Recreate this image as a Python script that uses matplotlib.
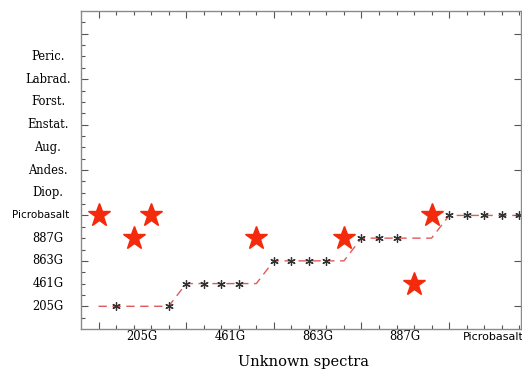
import numpy as np
import matplotlib.pyplot as plt
from matplotlib import transforms

# class names on the y axis, bottom to top
y_labels = ["205G", "461G", "863G", "887G", "Picrobasalt", "Diop.", "Andes.",
            "Aug.", "Enstat.", "Forst.", "Labrad.", "Peric."]
# groups of unknown spectra along the x axis
x_groups = ["205G", "461G", "863G", "887G", "Picrobasalt"]
group_size = 5

spectrum = np.arange(1, 26)
true_class = np.repeat([1, 2, 3, 4, 5], group_size)
predicted = np.array([5, 1, 4, 5, 1,
                      2, 2, 2, 2, 4,
                      3, 3, 3, 3, 4,
                      4, 4, 4, 2, 5,
                      5, 5, 5, 5, 5])

fig = plt.figure(figsize=(5.22, 3.71), dpi=100)
ax = fig.add_axes([81 / 522, (371 - 329) / 371, 440 / 522, 318 / 371])

ok = predicted == true_class
ax.plot(spectrum, true_class, ls=(0, (6, 4)), color="#e05a5a", lw=1.0, zorder=1)
ax.plot(spectrum[ok], predicted[ok], ls="None", marker=(6, 2, 0), ms=6,
        mec="#333333", mew=0.9, zorder=2)
ax.plot(spectrum[~ok], predicted[~ok], ls="None", marker="*", ms=17,
        color="#f42a0c", mec="#f42a0c", zorder=3)

ax.set_xlim(0, 25.1)
ax.set_ylim(0, 14)

for s in ax.spines.values():
    s.set_color("#8a8a8a")
    s.set_linewidth(1.0)

ax.set_xticks([1, 6, 11, 16, 21])
ax.set_xticks(np.arange(1, 26), minor=True)
ax.set_yticks([1, 3, 5, 7, 9, 11, 13])
ax.set_yticks(np.arange(0.5, 14, 0.5), minor=True)
ax.tick_params(which="both", direction="in", top=True, right=True,
               labelbottom=False, labelleft=False, color="#555555", width=0.8)
ax.tick_params(which="major", length=5)
ax.tick_params(which="minor", length=3)
ax.tick_params(axis="y", which="minor", right=False)

serif = ["DejaVu Serif"]
trans_y = transforms.blended_transform_factory(fig.transFigure, ax.transData)
for i, name in enumerate(y_labels):
    if name == "Picrobasalt":
        ax.text(41 / 522, i + 1, name, transform=trans_y, ha="center", va="center",
                fontsize=7.5, family="DejaVu Sans")
    else:
        ax.text(48 / 522, i + 1, name, transform=trans_y, ha="center", va="center",
                fontsize=8.3, family=serif)

trans_x = transforms.blended_transform_factory(ax.transData, fig.transFigure)
for j, name in enumerate(x_groups):
    xc = j * group_size + 3.5
    fam = "DejaVu Sans" if name == "Picrobasalt" else serif
    ax.text(xc, 1 - 337 / 371, name, transform=trans_x, ha="center", va="center",
            fontsize=8.3 if fam == serif else 8, family=fam)

fig.text(303 / 522, 1 - 362 / 371, "Unknown spectra", ha="center", va="center",
         fontsize=10.5, family=serif)

fig.savefig("out.png", dpi=100)
